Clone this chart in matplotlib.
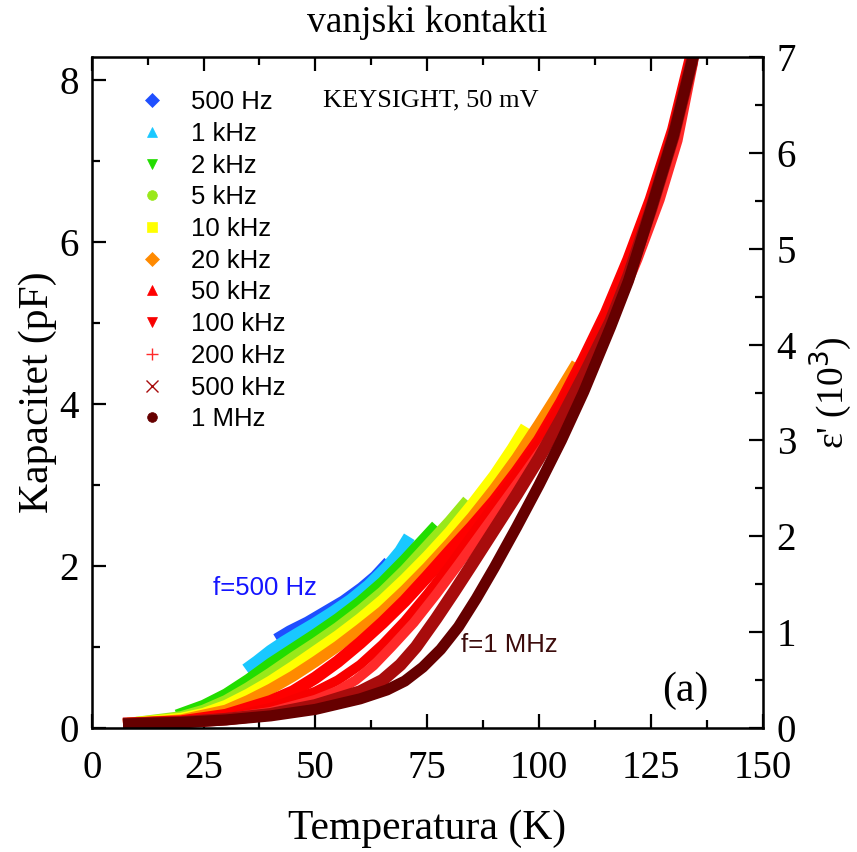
import matplotlib.pyplot as plt
from matplotlib.lines import Line2D
from matplotlib.ticker import MultipleLocator

plt.rcParams['font.family'] = ['Liberation Serif', 'DejaVu Serif']

# frequency series: temperature (K) and capacitance (pF)
labels = ['500 Hz', '1 kHz', '2 kHz', '5 kHz', '10 kHz', '20 kHz',
          '50 kHz', '100 kHz', '200 kHz', '500 kHz', '1 MHz']
colors = ['#1f4fff', '#19c8ff', '#22dd00', '#99e81a', '#ffff00', '#ff8a00',
          '#ff0000', '#f80000', '#ff2a2a', '#a80c0c', '#660000']
markers = ['D', '^', 'v', 'o', 's', 'D', '^', 'v', '+', 'x', 'o']

T_500 = [41, 44, 48, 52, 56, 60, 63, 66]
C_500 = [1.12, 1.22, 1.33, 1.46, 1.59, 1.75, 1.89, 2.07]
T_1k = [34.5, 37, 40, 43, 46, 50, 54, 58, 62, 66, 69, 71]
C_1k = [0.72, 0.82, 0.95, 1.06, 1.16, 1.29, 1.43, 1.58, 1.76, 1.98, 2.18, 2.36]
T_2k = [19, 25, 30, 35, 40, 45, 50, 55, 60, 65, 70, 74, 77]
C_2k = [0.16, 0.28, 0.42, 0.6, 0.8, 0.98, 1.16, 1.35, 1.56, 1.8, 2.08, 2.32, 2.5]
T_5k = [10, 20, 25, 30, 35, 40, 45, 50, 55, 60, 65, 70, 75, 80, 84]
C_5k = [0.07, 0.14, 0.22, 0.34, 0.5, 0.68, 0.87, 1.05, 1.24, 1.45, 1.68, 1.95, 2.25, 2.55, 2.81]
T_10k = [8, 20, 25, 30, 35, 40, 45, 50, 55, 60, 65, 70, 75, 80, 85, 90, 94, 97]
C_10k = [0.06, 0.12, 0.18, 0.28, 0.42, 0.58, 0.76, 0.95, 1.14, 1.35, 1.58, 1.84, 2.12,
         2.42, 2.76, 3.12, 3.45, 3.72]
T_20k = [7, 20, 30, 35, 40, 45, 50, 55, 60, 65, 70, 75, 80, 85, 90, 95, 100, 104, 108.4]
C_20k = [0.05, 0.1, 0.22, 0.34, 0.48, 0.64, 0.82, 1.01, 1.22, 1.44, 1.7, 1.98, 2.28,
         2.6, 2.95, 3.33, 3.75, 4.1, 4.5]
T_50k = [7, 20, 30, 40, 45, 50, 55, 60, 65, 70, 75, 80, 85, 90, 95, 100, 105, 110,
         115, 120, 125, 130, 134]
C_50k = [0.05, 0.08, 0.16, 0.33, 0.45, 0.62, 0.82, 1.05, 1.3, 1.57, 1.87, 2.18, 2.48,
         2.8, 3.16, 3.55, 4.02, 4.55, 5.12, 5.78, 6.52, 7.38, 8.28]
T_100k = [7, 20, 30, 40, 50, 55, 60, 65, 70, 75, 80, 85, 90, 95, 100, 105, 110,
          115, 120, 125, 130, 134]
C_100k = [0.05, 0.07, 0.13, 0.25, 0.45, 0.59, 0.78, 1.03, 1.32, 1.65, 2.0, 2.38, 2.76,
          3.14, 3.52, 4.0, 4.52, 5.1, 5.75, 6.5, 7.35, 8.28]
T_200k = [7, 20, 30, 40, 50, 55, 59, 63, 67, 72, 77, 82, 87, 92, 97, 102, 107, 112,
          117, 122, 127, 131, 134.5]
C_200k = [0.05, 0.07, 0.12, 0.2, 0.35, 0.46, 0.59, 0.77, 1.0, 1.3, 1.65, 2.02, 2.4,
          2.78, 3.16, 3.55, 4.0, 4.55, 5.12, 5.78, 6.52, 7.25, 8.22]
T_500k = [7, 20, 30, 40, 50, 60, 65, 69, 72.5, 77, 81, 85, 90, 95, 100, 105, 110,
          116, 120, 125, 130, 134.5]
C_500k = [0.05, 0.07, 0.11, 0.17, 0.28, 0.45, 0.59, 0.78, 1.0, 1.35, 1.68, 2.02, 2.45,
          2.88, 3.33, 3.82, 4.35, 5.02, 5.58, 6.4, 7.3, 8.3]
T_1M = [7, 20, 30, 40, 50, 60, 66, 70, 74, 78, 82, 86, 90, 95, 100, 105, 110, 116,
        120, 125, 130, 134.5]
C_1M = [0.05, 0.07, 0.1, 0.15, 0.23, 0.36, 0.47, 0.58, 0.75, 0.97, 1.25, 1.6, 1.98,
        2.48, 3.0, 3.55, 4.15, 4.95, 5.52, 6.4, 7.3, 8.3]

series = [(T_500, C_500), (T_1k, C_1k), (T_2k, C_2k), (T_5k, C_5k), (T_10k, C_10k),
          (T_20k, C_20k), (T_50k, C_50k), (T_100k, C_100k), (T_200k, C_200k),
          (T_500k, C_500k), (T_1M, C_1M)]
widths = [5, 9, 8, 8, 8, 8, 9, 7, 7, 9, 8]

fig = plt.figure(figsize=(8.57, 8.52), dpi=100)
ax = fig.add_axes([0.107, 0.1455, 0.783, 0.7876])

for (T, C), col, lw in zip(series, colors, widths):
    ax.plot(T, C, color=col, lw=lw, solid_capstyle='butt', solid_joinstyle='round')

ax.set_xlim(0, 150)
ax.set_ylim(0, 8.28)
ax.xaxis.set_major_locator(MultipleLocator(25))
ax.xaxis.set_minor_locator(MultipleLocator(12.5))
ax.yaxis.set_major_locator(MultipleLocator(2))
ax.yaxis.set_minor_locator(MultipleLocator(1))
ax.tick_params(which='both', direction='in', top=True, right=False, width=1.6,
               labelsize=28)
ax.tick_params(which='major', length=10)
ax.tick_params(which='minor', length=5.5)
ax.tick_params(axis='x', pad=16)
ax.tick_params(axis='y', pad=9)
for s in ax.spines.values():
    s.set_linewidth(1.8)

ax2 = ax.twinx()
ax2.set_ylim(0, 7)
ax2.yaxis.set_major_locator(MultipleLocator(1))
ax2.yaxis.set_minor_locator(MultipleLocator(0.5))
ax2.tick_params(which='both', direction='in', width=1.6, labelsize=28, pad=10)
ax2.tick_params(which='major', length=10)
ax2.tick_params(which='minor', length=5.5)

ax.set_xlabel('Temperatura (K)', fontsize=30, labelpad=16)
ax.set_ylabel('Kapacitet (pF)', fontsize=30, labelpad=2)
ax2.set_ylabel("ε' (10$^3$)", fontsize=27, labelpad=8)
ax.set_title('vanjski kontakti', fontsize=27, pad=18)

handles = [Line2D([], [], ls='none', marker=m, color=c, markersize=7 if m not in 'x+' else 8,
                  markeredgewidth=1 if m in 'x+' else 0.5)
           for m, c in zip(markers, colors)]
ax.legend(handles, labels, loc='upper left', bbox_to_anchor=(0.033, 0.985), frameon=False,
          prop={'family': 'Liberation Sans', 'size': 18.5}, labelspacing=0.3,
          handletextpad=0.9, handlelength=1.2)

ax.text(0.505, 0.935, 'KEYSIGHT, 50 mV', transform=ax.transAxes, fontsize=19,
        ha='center', va='center')
ax.text(0.885, 0.055, '(a)', transform=ax.transAxes, fontsize=30, ha='center', va='center')
ax.text(0.258, 0.209, 'f=500 Hz', transform=ax.transAxes, fontsize=18.5, color='#1414ff',
        family='Liberation Sans', ha='center', va='center')
ax.text(0.623, 0.124, 'f=1 MHz', transform=ax.transAxes, fontsize=18.5, color='#3d0c0c',
        family='Liberation Sans', ha='center', va='center')

fig.savefig('out.png', dpi=100)
